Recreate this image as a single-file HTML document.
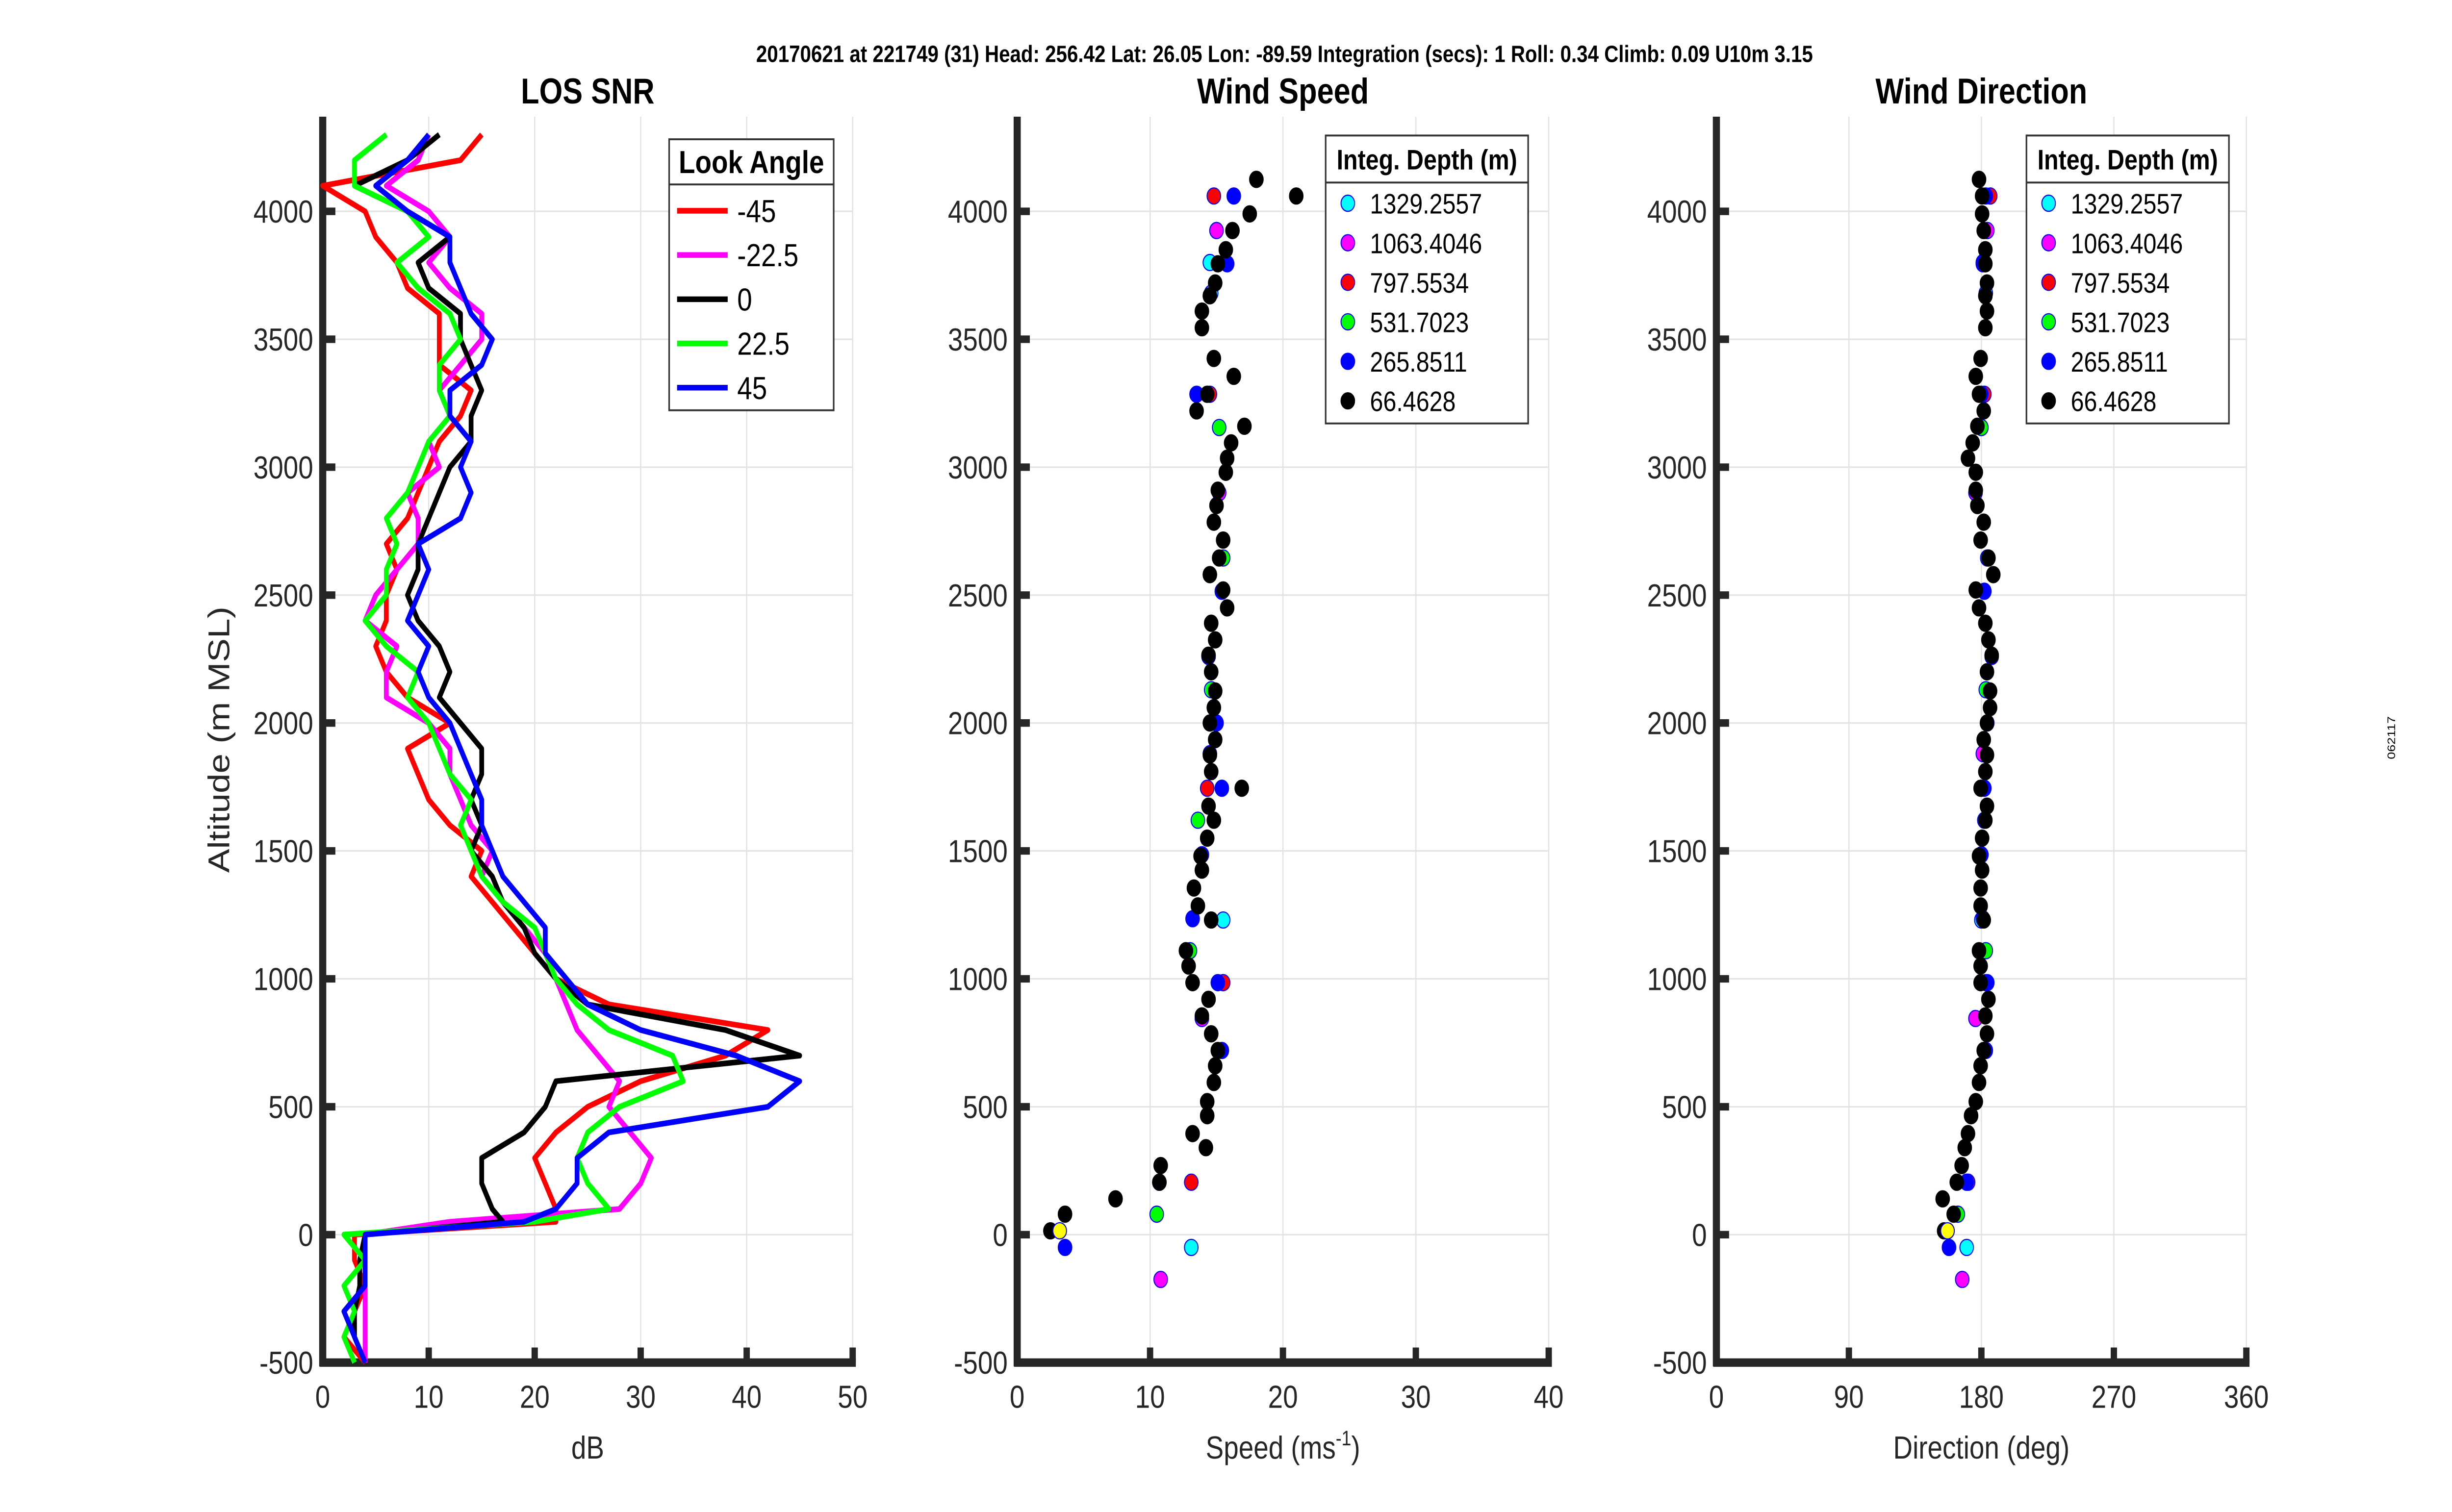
<!DOCTYPE html>
<html><head><meta charset="utf-8"><style>
html,body{margin:0;padding:0;background:#fff;overflow:hidden;width:100vw;height:100vh;}
svg{display:block;font-family:"Liberation Sans",sans-serif;width:100vw;height:100vh;}
</style></head><body>
<svg id="fig" viewBox="0 0 1550 803.4" preserveAspectRatio="none" xmlns="http://www.w3.org/2000/svg">
<text x="812" y="33" text-anchor="middle" font-size="12.5" font-weight="bold">20170621 at 221749 (31)  Head: 256.42  Lat: 26.05  Lon: -89.59  Integration (secs): 1  Roll: 0.34  Climb: 0.09  U10m 3.15</text>
<text x="1514" y="392" font-size="7" text-anchor="middle" transform="rotate(-90 1514 392)">062117</text>
<g id="g"></g>
</svg>
<script>
// ---- LOS SNR data ----
const snrAlt = [-500,-400,-300,-200,-100,0,50,100,200,300,400,500,600,700,800,900,1000,1100,1200,1300,1400,1500,1600,1700,1800,1900,2000,2100,2200,2300,2400,2500,2600,2700,2800,2900,3000,3100,3200,3300,3400,3500,3600,3700,3800,3900,4000,4100,4200,4300];
const snrM45 = [4,2,3,4,3,3,22,22,21,20,22,25,30,38,42,27,22,20,18,16,14,15,12,10,9,8,12,8,6,5,6,6,7,6,8,9,10,11,13,14,11,11,11,8,7,5,4,0,13,15];
const snrM22 = [4,4,4,4,4,4,12,28,30,31,29,27,28,26,24,23,22,21,19,17,15,16,14,13,12,12,10,6,6,7,4,5,7,9,9,8,11,10,12,11,13,15,15,12,10,12,10,6,9,10];
const snr0 = [4,3,3,3.5,3.5,4,17,16,15,15,19,21,22,45,38,25,22,20,19,17,16,14,15,14,15,15,13,11,12,11,9,8,9,9,10,11,12,14,14,15,14,13,13,10,9,12,8,3,8,11];
const snrP22 = [3,2,3,2,4,2,20,27,25,24,25,28,34,33,27,24,22,21,20,17,15,14,13,14,12,11,10,8,9,6,4,6,6,7,6,8,9,10,12,11,11,13,12,9,7,10,8,3,3,6];
const snrP45 = [4,3,2,4,4,4,19,22,24,24,27,42,45,39,30,25,23,21,21,19,17,16,15,15,14,13,12,10,9,10,8,9,10,9,13,14,13,14,12,12,15,16,14,13,12,12,8,5,8,10];
const snrNames = ['-45','-22.5','0','22.5','45'];
// ---- Wind speed / direction data (66.4628 m depth, black) ----
const bkAlt = [4125,4060,3990,3925,3850,3795,3720,3670,3610,3545,3425,3355,3285,3220,3160,3095,3035,2980,2910,2850,2785,2715,2645,2580,2520,2450,2390,2325,2265,2200,2125,2060,2000,1935,1875,1810,1745,1675,1620,1550,1480,1425,1355,1285,1230,1110,1050,985,920,855,785,720,660,595,520,465,395,340,270,205,140,80,15];
const bkSpd = [18,21,17.5,16.2,15.7,15.1,14.9,14.5,13.9,13.9,14.8,16.3,14.3,13.5,17.1,16.1,15.8,15.7,15.1,15,14.8,15.5,15.2,14.5,15.5,15.8,14.6,14.9,14.4,14.6,14.9,14.8,14.5,14.9,14.5,14.6,16.9,14.4,14.8,14.3,13.8,13.9,13.3,13.6,14.6,12.7,12.9,13.2,14.4,13.9,14.6,15.1,14.9,14.8,14.3,14.3,13.2,14.2,10.8,10.7,7.4,3.6,2.5];
const bkDir = [178.4,180.5,180.5,181.6,182.7,182.7,183.8,182.7,183.8,182.7,179.5,176.2,178.4,181.6,177.3,174.1,170.9,176.2,176.2,177.3,181.6,179.5,184.8,188.1,176.2,178.4,182.7,184.8,187,183.8,185.9,185.9,183.8,181.6,183.8,182.7,179.5,183.8,182.7,180.5,178.4,180.5,179.5,179.5,181.6,178.4,179.5,179.5,184.8,182.7,183.8,181.6,179.5,178.4,176.2,173,170.9,168.7,166.6,163.3,153.7,161.2,154.7];
const cyAlt = [3800,3680,1230,-50];   const cySpd = [14.5,14.6,15.5,13.1];   const cyDir = [181,183,180,170];
const mgAlt = [3925,2900,1880,845,-175]; const mgSpd = [15,15.2,14.5,13.9,10.8]; const mgDir = [184,176,181,176,167];
const rdAlt = [4060,3285,1745,985,205]; const rdSpd = [14.8,14.5,14.3,15.5,13.1]; const rdDir = [186,182,180,183,171];
const grAlt = [3155,2645,2130,1620,1110,80]; const grSpd = [15.2,15.5,14.6,13.6,13,10.5]; const grDir = [180,184,183,182,183,164];
const blAlt = [4060,3795,3285,2515,2260,2000,1745,1485,1235,985,720,205,-50]; const blSpd = [16.3,15.8,13.5,15.4,14.4,15,15.4,13.9,13.2,15.1,15.4,10.7,3.6]; const blDir = [183,181,180,182,187,184,182,180,181,184,183,170,158];
const ywAlt = [15]; const ywSpd = [3.2]; const ywDir = [157];
const yTicks = [-500,0,500,1000,1500,2000,2500,3000,3500,4000];
const snrTicks = [0,10,20,30,40,50];
const spdTicks = [0,10,20,30,40];
const dirTicks = [0,90,180,270,360];
const depthNames = ['1329.2557','1063.4046','797.5534','531.7023','265.8511','66.4628'];

const NS='http://www.w3.org/2000/svg';
const G=document.getElementById('g');
function el(tag,attrs,parent){const e=document.createElementNS(NS,tag);for(const k in attrs)e.setAttribute(k,attrs[k]);(parent||G).appendChild(e);return e;}
const TOP=62,BOT=724,AMIN=-500,AMAX=4370;
function yA(a){return BOT-(a-AMIN)/(AMAX-AMIN)*(BOT-TOP);}
function mkX(x0,x1,v0,v1){return v=>x0+(v-v0)/(v1-v0)*(x1-x0);}
const AX='#262626';

function axes(name,x0,x1,xt,xs,title,xlabel){
  const ax=el('g',{});
  
  
  xt.forEach(v=>{const x=xs(v);const l=el('line',{x1:x,x2:x,y1:TOP,y2:BOT,stroke:'#e3e3e3','stroke-width':0.8},ax);});
  yTicks.forEach(v=>{const y=yA(v);const l=el('line',{x1:x0,x2:x1,y1:y,y2:y,stroke:'#e3e3e3','stroke-width':0.8},ax);});
  el('line',{x1:x0,x2:x0,y1:TOP,y2:BOT+2,stroke:AX,'stroke-width':4.5},ax);
  el('line',{x1:x0-2,x2:x1+2,y1:BOT,y2:BOT,stroke:AX,'stroke-width':4.5},ax);
  xt.forEach(v=>{const x=xs(v);el('line',{x1:x,x2:x,y1:BOT,y2:BOT-8,stroke:AX,'stroke-width':4},ax);
    const t=el('text',{x:x,y:BOT+24,'text-anchor':'middle','font-size':17,fill:'#262626'},ax);t.textContent=v;
    });
  yTicks.forEach(v=>{const y=yA(v);el('line',{x1:x0,x2:x0+8,y1:y,y2:y,stroke:AX,'stroke-width':4},ax);
    const t=el('text',{x:x0-6,y:y+6,'text-anchor':'end','font-size':17,fill:'#262626'},ax);t.textContent=v;
    });
  const tt=el('text',{x:(x0+x1)/2,y:55,'text-anchor':'middle','font-size':19,'font-weight':'bold'},ax);tt.textContent=title;
  
  const xl=el('text',{x:(x0+x1)/2,y:775,'text-anchor':'middle','font-size':17,fill:'#262626'},ax);xl.innerHTML=xlabel;
  
}
// Panel 1
const xs1=mkX(204,539,0,50);
axes('los-snr',204,539,snrTicks,xs1,'LOS SNR','dB');
const yl=el('text',{x:145,y:393,'text-anchor':'middle','font-size':19,fill:'#262626',transform:'rotate(-90 145 393)'});
yl.textContent='Altitude (m MSL)';


const snrSeries=[snrM45,snrM22,snr0,snrP22,snrP45];
const snrCols=['#ff0000','#ff00ff','#000000','#00ff00','#0000ff'];
snrSeries.forEach((s,i)=>{
  const d=s.map((v,k)=>(k?'L':'M')+xs1(v).toFixed(1)+','+yA(snrAlt[k]).toFixed(1)).join('');
  const p=el('path',{d:d,fill:'none',stroke:snrCols[i],'stroke-width':3,'stroke-linejoin':'round'});
  
  
});
// legend 1
const lg1=el('g',{});


el('rect',{x:423,y:74,width:104,height:144,fill:'#fff',stroke:'#333','stroke-width':1},lg1);
el('line',{x1:423,x2:527,y1:98,y2:98,stroke:'#333','stroke-width':1},lg1);
const lt=el('text',{x:475,y:92,'text-anchor':'middle','font-size':17,'font-weight':'bold'},lg1);lt.textContent='Look Angle';
snrNames.forEach((n,i)=>{const y=112+i*23.5;
  const e=el('g',{},lg1);
  
  
  el('line',{x1:428,x2:460,y1:y,y2:y,stroke:snrCols[i],'stroke-width':3},e);
  const t=el('text',{x:466,y:y+6,'font-size':17},e);t.textContent=n;});

// Panels 2, 3
const xs2=mkX(643,979,0,40);
axes('wind-speed',643,979,spdTicks,xs2,'Wind Speed','Speed (ms<tspan font-size="11" dy="-7">-1</tspan><tspan dy="7">)</tspan>');
const xs3=mkX(1085,1420,0,360);
axes('wind-direction',1085,1420,dirTicks,xs3,'Wind Direction','Direction (deg)');
const depthSets=[[cyAlt,cySpd,cyDir,'#00ffff'],[mgAlt,mgSpd,mgDir,'#ff00ff'],[rdAlt,rdSpd,rdDir,'#ff0000'],[grAlt,grSpd,grDir,'#00ff00'],[blAlt,blSpd,blDir,'#0000ff'],[bkAlt,bkSpd,bkDir,'#000000'],[ywAlt,ywSpd,ywDir,'#ffff00']];
depthSets.forEach((s,i)=>{
  s[0].forEach((a,k)=>{
    const c1=el('circle',{cx:xs2(s[1][k]),cy:yA(a),r:4.3,fill:s[3],stroke:i===5?'#000':'#0000ff','stroke-width':0.6});
    
    
    const c2=el('circle',{cx:xs3(s[2][k]),cy:yA(a),r:4.3,fill:s[3],stroke:i===5?'#000':'#0000ff','stroke-width':0.6});
    
    
  });
});
function depthLegend(x0,name){
  const lg=el('g',{});
  
  
  el('rect',{x:x0,y:72,width:128,height:153,fill:'#fff',stroke:'#333','stroke-width':1},lg);
  el('line',{x1:x0,x2:x0+128,y1:97,y2:97,stroke:'#333','stroke-width':1},lg);
  const t=el('text',{x:x0+64,y:90,'text-anchor':'middle','font-size':15,'font-weight':'bold'},lg);t.textContent='Integ. Depth (m)';
  depthNames.forEach((n,i)=>{const y=108+i*21;
    const e=el('g',{},lg);
    
    
    el('circle',{cx:x0+14,cy:y,r:4.3,fill:depthSets[i][3],stroke:i===5?'#000':'#0000ff','stroke-width':0.6},e);
    const tx=el('text',{x:x0+28,y:y+5.5,'font-size':15},e);tx.textContent=n;});
}
depthLegend(838,'speed-depth-legend');
depthLegend(1281,'direction-depth-legend');
</script>
</body></html>
